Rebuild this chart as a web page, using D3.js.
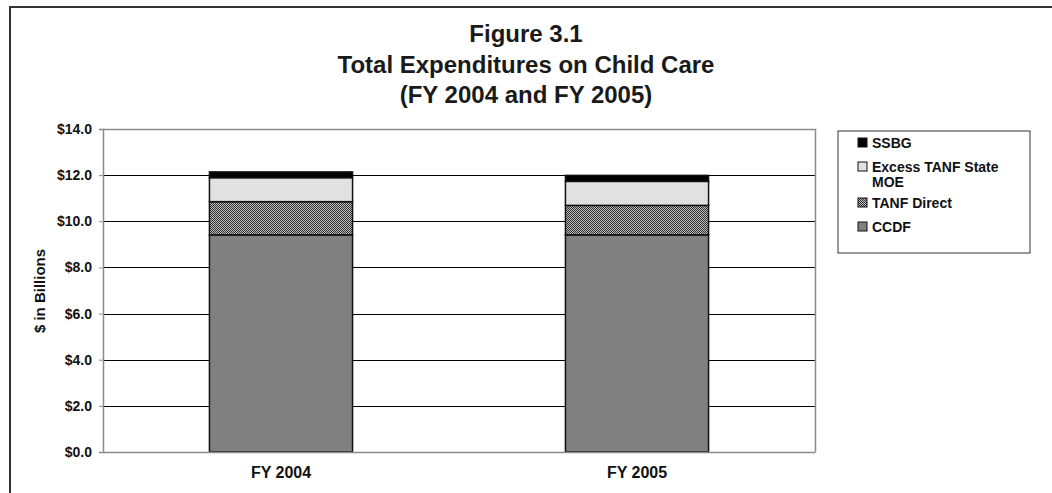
<!DOCTYPE html>
<html>
<head>
<meta charset="utf-8">
<script src="https://cdn.jsdelivr.net/npm/d3@7"></script>
<style>
  body { margin: 0; background: #fff; }
  svg { display: block; font-family: "Liberation Sans", Arial, sans-serif; }
</style>
</head>
<body>
<svg id="chart" width="1052" height="493"></svg>
<script>
// Fiscal years shown on the x axis
const categories = ["FY 2004", "FY 2005"];
// Funding sources, bottom of stack first
const seriesNames = ["CCDF", "TANF Direct", "Excess TANF State MOE", "SSBG"];
// Expenditures in $ billions
const ccdf = [9.41, 9.41];
const tanfDirect = [1.44, 1.28];
const excessMOE = [1.04, 1.04];
const ssbg = [0.25, 0.26];
const yTicks = [0, 2, 4, 6, 8, 10, 12, 14];
const titleLines = ["Figure 3.1", "Total Expenditures on Child Care", "(FY 2004 and FY 2005)"];

const svg = d3.select("#chart");
const defs = svg.append("defs");

// Checkered fill for TANF Direct
const chk = defs.append("pattern").attr("id", "checker")
  .attr("width", 2).attr("height", 2).attr("patternUnits", "userSpaceOnUse");
chk.append("rect").attr("width", 2).attr("height", 2).attr("fill", "#bdbdbd");
chk.append("rect").attr("width", 1).attr("height", 1).attr("fill", "#303030");
chk.append("rect").attr("x", 1).attr("y", 1).attr("width", 1).attr("height", 1).attr("fill", "#303030");

// Light speckled fill for Excess TANF State MOE
const lt = defs.append("pattern").attr("id", "lightdots")
  .attr("width", 2).attr("height", 2).attr("patternUnits", "userSpaceOnUse");
lt.append("rect").attr("width", 2).attr("height", 2).attr("fill", "#e4e4e4");
lt.append("rect").attr("width", 1).attr("height", 1).attr("fill", "#d8d8d8");

const fills = {
  "CCDF": "#808080",
  "TANF Direct": "url(#checker)",
  "Excess TANF State MOE": "url(#lightdots)",
  "SSBG": "#000000"
};

// Outer frame
svg.append("line").attr("x1", 10).attr("x2", 1052).attr("y1", 7).attr("y2", 7)
  .attr("stroke", "#333").attr("stroke-width", 2);
svg.append("line").attr("x1", 10).attr("x2", 10).attr("y1", 6).attr("y2", 493)
  .attr("stroke", "#333").attr("stroke-width", 2);

// Title
svg.append("g").selectAll("text").data(titleLines).join("text")
  .attr("x", 526).attr("y", (d, i) => 42 + i * 30.5)
  .attr("text-anchor", "middle").attr("font-weight", "bold").attr("font-size", 24)
  .attr("fill", "#1a1a1a").text(d => d);

const plot = { left: 103, right: 815, top: 129, bottom: 452 };

const x = d3.scaleBand().domain(categories).range([plot.left, plot.right]).paddingInner(0).paddingOuter(0);
const y = d3.scaleLinear().domain([0, 14]).range([plot.bottom, plot.top]);

// Horizontal gridlines
svg.append("g").selectAll("line").data(yTicks.filter(t => t > 0 && t < 14)).join("line")
  .attr("x1", plot.left).attr("x2", plot.right)
  .attr("y1", d => Math.round(y(d)) + 0.5).attr("y2", d => Math.round(y(d)) + 0.5)
  .attr("stroke", "#000").attr("stroke-width", 1);

// Plot frame (top and right)
svg.append("path")
  .attr("d", `M${plot.left},${plot.top + 0.5}H${plot.right + 0.5}V${plot.bottom}`)
  .attr("fill", "none").attr("stroke", "#8a8a8a").attr("stroke-width", 1.5);

// Stacked bars
const rows = categories.map((c, i) => ({
  cat: c,
  "CCDF": ccdf[i],
  "TANF Direct": tanfDirect[i],
  "Excess TANF State MOE": excessMOE[i],
  "SSBG": ssbg[i]
}));
const stacked = d3.stack().keys(seriesNames)(rows);
const barW = x.bandwidth() * 0.402;

svg.append("g").selectAll("g").data(stacked).join("g")
  .attr("fill", d => fills[d.key])
  .selectAll("rect").data(d => d).join("rect")
  .attr("x", d => x(d.data.cat) + (x.bandwidth() - barW) / 2)
  .attr("width", barW)
  .attr("y", d => y(d[1]))
  .attr("height", d => y(d[0]) - y(d[1]))
  .attr("stroke", "#111").attr("stroke-width", 1.5);

// Y axis
const yAxis = svg.append("g").attr("transform", `translate(${plot.left},0)`)
  .call(d3.axisLeft(y).tickValues(yTicks).tickSize(4).tickPadding(7)
    .tickFormat(d => "$" + d3.format(".1f")(d)));
yAxis.select(".domain").attr("stroke", "#8a8a8a").attr("stroke-width", 1.5);
yAxis.selectAll(".tick line").attr("stroke", "#8a8a8a");
yAxis.selectAll("text").attr("font-weight", "bold").attr("font-size", 14)
  .attr("font-family", "Liberation Sans, Arial, sans-serif").attr("fill", "#111");

// X axis
const xAxis = svg.append("g").attr("transform", `translate(0,${plot.bottom})`)
  .call(d3.axisBottom(x).tickSize(0).tickPadding(15));
xAxis.select(".domain").attr("stroke", "#8a8a8a").attr("stroke-width", 1.5);
xAxis.selectAll("text").attr("font-weight", "bold").attr("font-size", 16)
  .attr("font-family", "Liberation Sans, Arial, sans-serif").attr("fill", "#111");

// Y axis title
svg.append("text")
  .attr("transform", `translate(45,291) rotate(-90)`)
  .attr("text-anchor", "middle").attr("font-weight", "bold").attr("font-size", 15)
  .attr("fill", "#111").text("$ in Billions");

// Legend
const legend = svg.append("g");
legend.append("rect").attr("x", 838).attr("y", 131).attr("width", 192).attr("height", 122)
  .attr("fill", "#fff").attr("stroke", "#333").attr("stroke-width", 1);

const legendItems = [
  { key: "SSBG", lines: ["SSBG"], y: 148 },
  { key: "Excess TANF State MOE", lines: ["Excess TANF State", "MOE"], y: 172 },
  { key: "TANF Direct", lines: ["TANF Direct"], y: 208 },
  { key: "CCDF", lines: ["CCDF"], y: 232 }
];
const li = legend.selectAll("g.item").data(legendItems).join("g").attr("class", "item");
li.append("rect")
  .attr("x", 858).attr("y", d => d.y - 10).attr("width", 9).attr("height", 9)
  .attr("fill", d => fills[d.key]).attr("stroke", "#111").attr("stroke-width", 1);
li.append("text")
  .attr("x", 872).attr("y", d => d.y)
  .attr("font-weight", "bold").attr("font-size", 14).attr("fill", "#111")
  .selectAll("tspan").data(d => d.lines).join("tspan")
  .attr("x", 872).attr("dy", (d, i) => i === 0 ? 0 : 15).text(d => d);
</script>
</body>
</html>
